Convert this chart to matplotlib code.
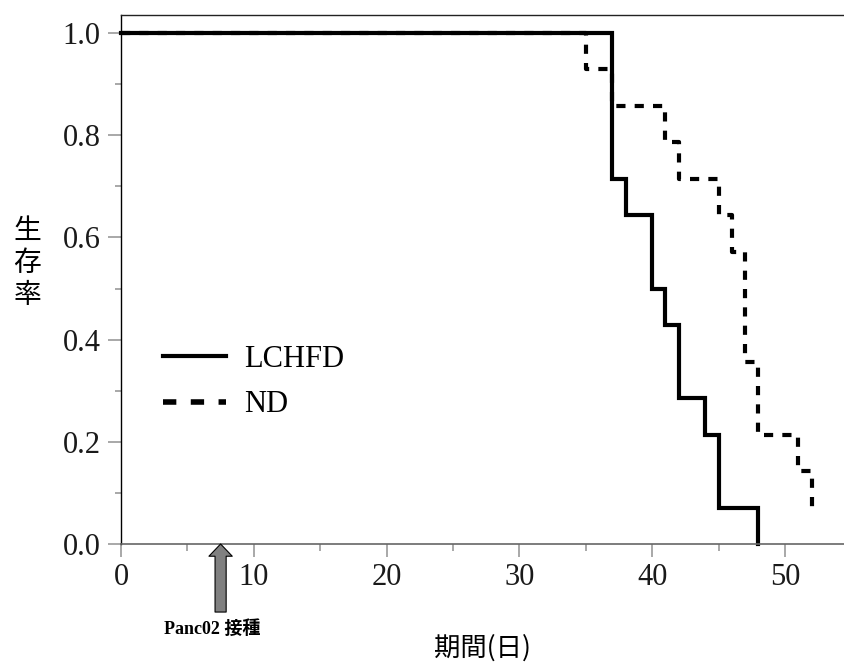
import matplotlib
matplotlib.use("Agg")
import matplotlib.pyplot as plt
from matplotlib.ticker import MultipleLocator

# Kaplan-Meier survival (n=14 per group), days after start
lchfd_days = [0, 37, 38, 40, 41, 42, 44, 45, 48]
lchfd_surv = [1.0, 0.714, 0.643, 0.5, 0.429, 0.286, 0.214, 0.071, 0.0]

nd_days = [0, 35, 37, 41, 42, 45, 46, 47, 48, 51, 52]
nd_surv = [1.0, 0.929, 0.857, 0.786, 0.714, 0.643, 0.571, 0.357, 0.214, 0.143, 0.071]

series_labels = ["LCHFD", "ND"]
inoculation_day = 7.5
inoculation_label = "Panc02 接種"

x_ticks = [0, 10, 20, 30, 40, 50]
y_ticks = [0.0, 0.2, 0.4, 0.6, 0.8, 1.0]

serif = ["Liberation Serif", "Noto Sans CJK JP"]
cjk = ["Noto Sans CJK JP", "DejaVu Sans"]

fig = plt.figure(figsize=(8.44, 6.64), dpi=100)
W, H = 844, 664
ax = fig.add_axes([121 / W, (H - 544) / H, (W - 121) / W, (544 - 15) / H])

ax.step(lchfd_days, lchfd_surv, where="post", color="black", lw=3.0,
        solid_joinstyle="miter", clip_on=False, label=series_labels[0])
ax.step(nd_days, nd_surv, where="post", color="black", lw=3.0,
        linestyle=(0, (2.2, 2.2)), clip_on=False, label=series_labels[1])

ax.set_xlim(0, 723 / 13.28)
ax.set_ylim(0, 529 / 511)

ax.set_xticks(x_ticks)
ax.set_yticks(y_ticks)
ax.set_xticklabels([str(t) for t in x_ticks], family=serif, fontsize=22, color="#1a1a1a")
ax.set_yticklabels([f"{t:.1f}" for t in y_ticks], family=serif, fontsize=22, color="#1a1a1a")
ax.xaxis.set_minor_locator(MultipleLocator(5))
ax.yaxis.set_minor_locator(MultipleLocator(0.1))
ax.tick_params(axis="y", which="major", direction="out", length=9.5, width=1.2, color="#999999", pad=5)
ax.tick_params(axis="y", which="minor", direction="out", length=4, width=1.2, color="#999999")
ax.tick_params(axis="x", which="major", direction="out", length=9, width=1.2, color="#999999", pad=5)
ax.tick_params(axis="x", which="minor", direction="out", length=5, width=1.2, color="#999999")

ax.spines["right"].set_visible(False)
ax.spines["left"].set_color("black")
ax.spines["left"].set_linewidth(1.0)
ax.spines["top"].set_color("#222222")
ax.spines["top"].set_linewidth(1.0)
ax.spines["bottom"].set_color("#666666")
ax.spines["bottom"].set_linewidth(1.2)

leg = ax.legend(loc="upper left", bbox_to_anchor=(0.058, 0.377), frameon=False,
                prop={"family": serif, "size": 22}, handlelength=2.05,
                handletextpad=0.62, labelspacing=0.55, borderpad=0, borderaxespad=0)
# broader dashes for the legend sample
leg.get_lines()[1].set_linestyle((0, (2.4, 2.6)))
leg.get_lines()[1].set_linewidth(4.0)

ax.set_xlabel("期間(日)", family=cjk, fontsize=19, labelpad=30)
fig.text(27 / W, 1 - 263 / H, "生\n存\n率", family=cjk, fontsize=20,
         ha="center", va="center", linespacing=1.1)

# inoculation marker below the time axis
ax.annotate("", xy=(inoculation_day, 0), xycoords="data",
            xytext=(0, -49), textcoords="offset points",
            arrowprops=dict(arrowstyle="simple,head_length=0.55,head_width=1.05,tail_width=0.5",
                            mutation_scale=16, fc="#808080", ec="black", lw=0.8,
                            shrinkA=0, shrinkB=0),
            annotation_clip=False)
ax.annotate(inoculation_label, xy=(inoculation_day, 0), xycoords="data",
            xytext=(-6, -61), textcoords="offset points", ha="center", va="center",
            family=serif, fontsize=13, fontweight="bold", annotation_clip=False)

fig.savefig("out.png", dpi=100)
